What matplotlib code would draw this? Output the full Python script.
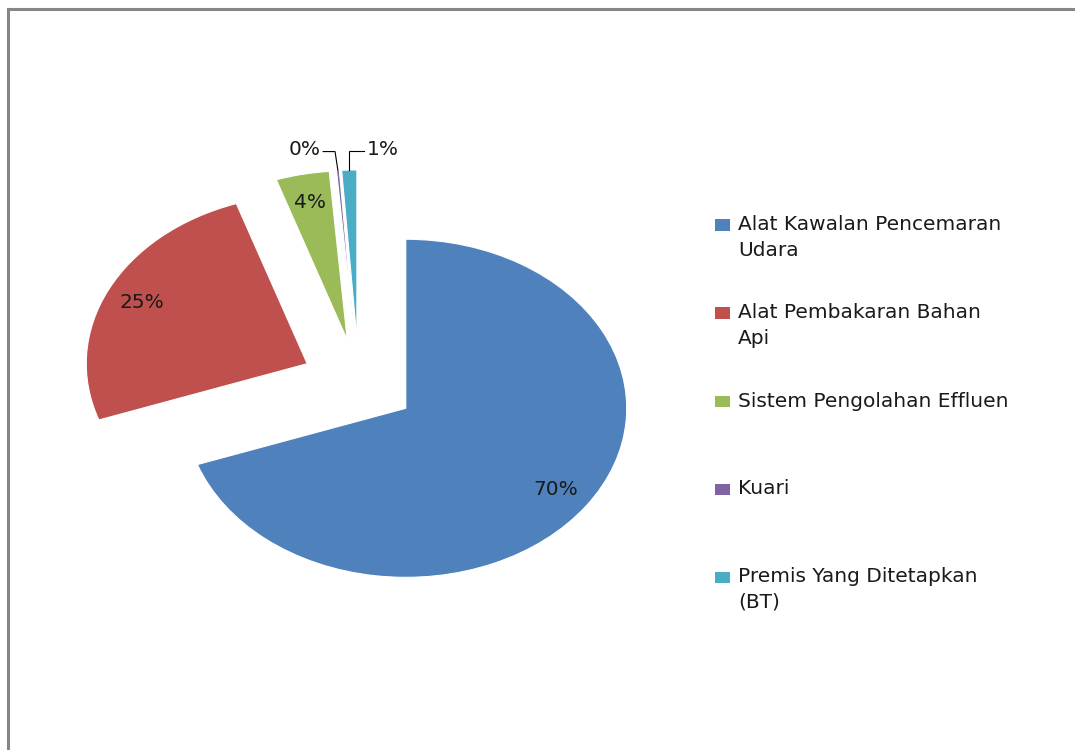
import numpy as np
import matplotlib.pyplot as plt
from matplotlib.patches import Rectangle

# Pecahan premis mengikut jenis (peratus)
categories = ['Alat Kawalan Pencemaran\nUdara',
              'Alat Pembakaran Bahan\nApi',
              'Sistem Pengolahan Effluen',
              'Kuari',
              'Premis Yang Ditetapkan\n(BT)']
shares = [69.6, 25.2, 3.9, 0.2, 1.1]
colors = ['#4F81BD', '#C0504D', '#9BBB59', '#8064A2', '#4BACC6']

FONT = 'DejaVu Sans'
FS = 14.5
W, H = 1075, 750

fig = plt.figure(figsize=(W / 100, H / 100), dpi=100)
ax = fig.add_axes([0.005, 0.1288, 0.6577, 0.7213])

wedges, texts, autotexts = ax.pie(
    shares, colors=colors, startangle=90, counterclock=False,
    explode=[0.26] * len(shares), autopct='%.0f%%', pctdistance=0.83,
    wedgeprops=dict(linewidth=0.8, edgecolor='white'),
    textprops=dict(fontsize=FS, fontfamily=FONT, color='#1a1a1a'))

# stretched pie, like the original sheet
ax.set_aspect('auto')
ax.set_xlim(-1.6, 1.6)
ax.set_ylim(-1.6, 1.6)

# tiny slices get their labels outside with elbow leaders
for idx, side in [(3, -1), (4, 1)]:
    w = wedges[idx]
    mid = np.deg2rad((w.theta1 + w.theta2) / 2)
    cx, cy = w.center
    ox, oy = cx + w.r * np.cos(mid), cy + w.r * np.sin(mid)
    ex, ey = ox + (0.013 * side if side < 0 else 0), oy + 0.112
    hx = ex + side * (0.054 if side < 0 else 0.068)
    ax.plot([ox, ex, hx], [oy, ey, ey], color='black', lw=0.8,
            solid_joinstyle='miter')
    t = autotexts[idx]
    t.set_position((hx + side * 0.01, ey + 0.01))
    t.set_ha('right' if side < 0 else 'left')
    t.set_va('center')

# legend drawn by hand so each marker sits on the first line of its entry
y0 = 1 - 225 / H
step = 88 / H
line = 25 / H
for i, (label, c) in enumerate(zip(categories, colors)):
    y = y0 - i * step
    fig.patches.append(Rectangle((715 / W, y - 5.5 / H), 15 / W, 11 / H,
                                 facecolor=c, edgecolor='none',
                                 transform=fig.transFigure, figure=fig))
    for j, part in enumerate(label.split('\n')):
        fig.text(738 / W, y - j * line, part, fontsize=FS, fontfamily=FONT,
                 color='#1a1a1a', va='center', ha='left')

# chart area border (right and bottom run off the edge)
fig.patches.append(Rectangle((8 / W, -0.05), 1.1, 1.05 - 9 / H,
                             fill=False, edgecolor='#868686', lw=2.2,
                             transform=fig.transFigure, figure=fig))

fig.savefig('out.png', dpi=100, facecolor='white')
